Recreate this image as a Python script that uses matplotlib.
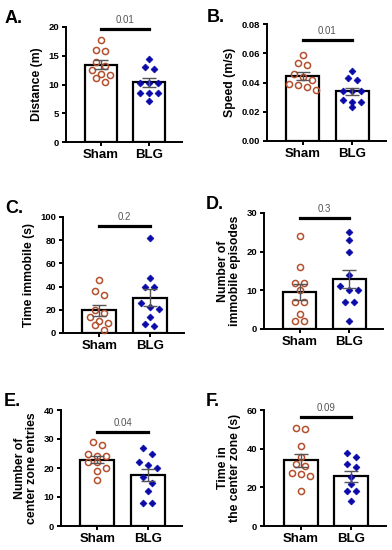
import numpy as np
import matplotlib
matplotlib.use('Agg')
import matplotlib.pyplot as plt

plt.rcParams['font.family'] = ['Liberation Sans', 'DejaVu Sans']
plt.rcParams['font.weight'] = 'bold'

groups = ['Sham', 'BLG']

distance_sham = [17.8, 15.9, 16.0, 13.9, 13.3, 12.6, 11.8, 11.7, 11.2, 10.5]
distance_blg = [14.4, 13.0, 12.7, 10.3, 10.3, 10.3, 8.6, 8.5, 8.5, 7.1]
speed_sham = [0.059, 0.052, 0.053, 0.046, 0.044, 0.042, 0.039, 0.038, 0.037, 0.035]
speed_blg = [0.048, 0.043, 0.042, 0.034, 0.034, 0.034, 0.028, 0.027, 0.027, 0.023]
immobile_sham = [46, 36, 33, 20, 17, 14, 10, 9, 7, 3]
immobile_blg = [82, 47, 40, 40, 26, 22, 21, 14, 8, 6]
episodes_sham = [24, 16, 12, 12, 10, 7, 7, 4, 2, 2]
episodes_blg = [25, 23, 20, 14, 11, 10, 10, 7, 7, 2]
entries_sham = [29, 28, 25, 24, 24, 22, 22, 20, 19, 16]
entries_blg = [27, 25, 22, 21, 20, 17, 15, 12, 8, 8]
center_sham = [50.2, 50.9, 41.5, 35.9, 31.0, 31.9, 27.3, 25.9, 26.9, 18.1]
center_blg = [37.8, 35.5, 32.0, 30.5, 25.5, 21.5, 18.0, 18.0, 12.9]

letters = ['A.', 'B.', 'C.', 'D.', 'E.', 'F.']
ylabels = ['Distance (m)', 'Speed (m/s)', 'Time immobile (s)',
           'Number of\nimmobile episodes', 'Number of\ncenter zone entries',
           'Time in\nthe center zone (s)']
pvalues = ['0.01', '0.01', '0.2', '0.3', '0.04', '0.09']
yticks = [[0, 5, 10, 15, 20],
          [0.00, 0.02, 0.04, 0.06, 0.08],
          [0, 20, 40, 60, 80, 100],
          [0, 10, 20, 30],
          [0, 10, 20, 30, 40],
          [0, 20, 40, 60]]
ytickfmt = ['%d', '%.2f', '%d', '%d', '%d', '%d']
data = [(distance_sham, distance_blg), (speed_sham, speed_blg),
        (immobile_sham, immobile_blg), (episodes_sham, episodes_blg),
        (entries_sham, entries_blg), (center_sham, center_blg)]

# layout in pixels: left, right, top, bottom of axes ; letter x, baseline ; sig bar height (fraction)
W, H = 392, 550
boxes = [(66, 182, 27, 142), (267, 386, 24, 141),
         (63, 184, 217, 333), (264, 383, 213, 329),
         (61, 182, 410, 526), (264, 386, 410, 526)]
letterpos = [(5, 23), (207, 22), (5, 213), (206, 209), (4, 406), (206, 406)]
sigfrac = [0.98, 0.86, 0.92, 0.957, 0.81, 0.94]

SHAM_C = '#b5502e'
BLG_C = '#0a0aa8'
XLIM = (-0.72, 1.68)


def swarm(vals, ymax, h_px, spacing_px, diam=6.0, step=9.0):
    ypx = np.asarray(vals, float) / ymax * h_px
    order = np.argsort(-ypx)
    offs = np.zeros(len(ypx))
    i = 0
    while i < len(order):
        row = [order[i]]
        j = i + 1
        while j < len(order) and ypx[order[i]] - ypx[order[j]] < diam:
            row.append(order[j])
            j += 1
        n = len(row)
        for k, idx in enumerate(row):
            offs[idx] = (k - (n - 1) / 2.0) * step
        i = j
    return offs / spacing_px


fig = plt.figure(figsize=(W / 100, H / 100), dpi=100)

for p in range(6):
    l, r, t, b = boxes[p]
    ax = fig.add_axes([l / W, 1 - b / H, (r - l) / W, (b - t) / H])
    ymax = yticks[p][-1]
    h_px = b - t
    spacing = (r - l) / (XLIM[1] - XLIM[0])
    for g in range(2):
        vals = np.array(data[p][g], float)
        m = vals.mean()
        sem = vals.std(ddof=1) / np.sqrt(len(vals))
        ax.bar(g, m, width=0.67, color='white', edgecolor='black', linewidth=1.6, zorder=1)
        xs = g + swarm(vals, ymax, h_px, spacing)
        if g == 0:
            ax.plot(xs, vals, 'o', ms=4.4, mfc='none', mec=SHAM_C, mew=1.1, zorder=3, clip_on=False)
        else:
            ax.plot(xs, vals, 'D', ms=3.5, mfc=BLG_C, mec=BLG_C, mew=0.5, zorder=3, clip_on=False)
        ax.errorbar(g, m, yerr=sem, color='#555555', elinewidth=1.0, capsize=4.8,
                    capthick=1.0, zorder=4)
    ys = sigfrac[p] * ymax
    ax.plot([0, 1], [ys, ys], color='black', lw=2.3, clip_on=False, zorder=5)
    ax.text(0.5, ys + ymax * 0.035, pvalues[p], ha='center', va='bottom',
            fontsize=7, fontweight='normal', color='#555555')

    ax.set_xlim(*XLIM)
    ax.set_ylim(0, ymax)
    ax.set_xticks([0, 1])
    ax.set_xticklabels(groups, fontsize=9.5, fontweight='bold')
    ax.set_yticks(yticks[p])
    ax.set_yticklabels([ytickfmt[p] % v for v in yticks[p]], fontsize=6.8, fontweight='bold')
    ax.set_ylabel(ylabels[p], fontsize=8.8, fontweight='bold', labelpad=4, linespacing=1.0)
    for s in ['top', 'right']:
        ax.spines[s].set_visible(False)
    for s in ['left', 'bottom']:
        ax.spines[s].set_linewidth(1.4)
    ax.tick_params(width=1.4, length=3, pad=2)

    lx, ly = letterpos[p]
    fig.text(lx / W, 1 - ly / H, letters[p], fontsize=13, fontweight='bold',
             ha='left', va='baseline')

fig.savefig('out.png', dpi=100, facecolor='white')
